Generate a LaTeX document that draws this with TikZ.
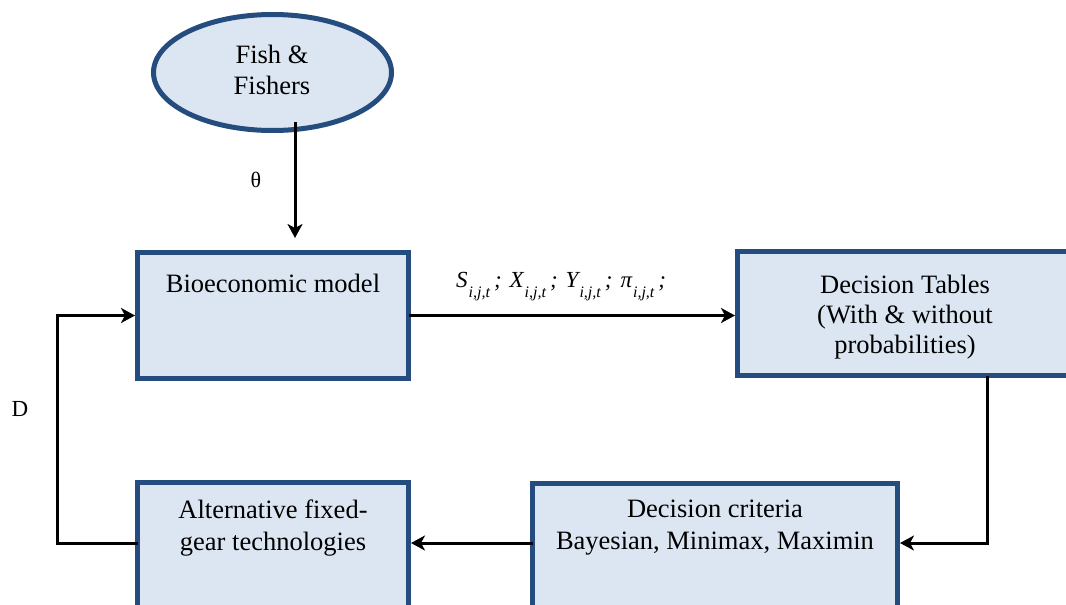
\documentclass[tikz,border=0pt]{standalone}
\usepackage{fontspec}
\setmainfont{Liberation Serif}
\usetikzlibrary{arrows.meta,shapes.geometric}
\definecolor{boxline}{HTML}{244C7E}
\definecolor{boxfill}{HTML}{DCE6F2}
% lowered italic subscript i,j,t followed by a separating semicolon
\newcommand{\ijsub}{\hspace{1pt}\raisebox{-10.5pt}{\fontsize{16}{16}\selectfont\itshape i,j,t}\hspace{4pt};\hspace{8pt}}
\begin{document}
\begin{tikzpicture}[x=1pt,y=-1pt,
  stagebox/.style={draw=boxline,fill=boxfill,line width=5pt,inner sep=0pt,outer sep=0pt},
  boxtext/.style={font=\fontsize{26.5}{30}\selectfont,align=center,inner sep=0pt},
  flow/.style={line width=3pt,-{Stealth[length=14pt,width=15pt,inset=4pt]}},
  lbl/.style={inner sep=0pt}]
\useasboundingbox (0,0) rectangle (1066,605);
\clip (0,0) rectangle (1066,605);

% stages
\node[stagebox,ellipse,minimum width=238pt,minimum height=116pt] (fish) at (272.5,72.5) {};
\node[boxtext,anchor=north] (fisht) at (272,45) {Fish \&\\[1pt]Fishers};

\node[stagebox,minimum width=271pt,minimum height=126pt] (bio) at (273,315.5) {};
\node[boxtext,anchor=base] (biot) at (273,292) {Bioeconomic model};

\node[stagebox,minimum width=340pt,minimum height=124pt] (dt) at (907.5,313.5) {};
\node[boxtext,anchor=north] (dtt) at (905,275) {Decision Tables\\(With \& without\\probabilities)};

\node[stagebox,minimum width=365pt,minimum height=126pt] (dc) at (715,546.5) {};
\node[boxtext,anchor=north] (dct) at (715,500) {Decision criteria\\[2pt]Bayesian, Minimax, Maximin};

\node[stagebox,minimum width=271pt,minimum height=126pt] (alt) at (273,545.5) {};
\node[boxtext,anchor=north] (altt) at (273,500) {Alternative fixed-\\[2pt]gear technologies};

% helper coordinates for the connector routes
\coordinate (thetax) at (295,122);
\coordinate (drop) at (987,0);
\coordinate (lowrow) at (0,543);
\coordinate (loopx) at (57,0);

% connectors
\draw[flow,shorten >=14.5pt] (thetax) -- (thetax |- bio.north);
\node[lbl,font=\fontsize{22}{22}\selectfont] (theta) at (256,180) {θ};

\draw[flow,shorten >=2.5pt] (bio.east) -- (bio.east -| dt.west);
\node[lbl,anchor=base west,font=\fontsize{23}{23}\selectfont\itshape] (flux) at (456,287)
  {S\ijsub X\ijsub Y\ijsub π\ijsub};

\draw[flow,shorten >=2.5pt] (drop |- dt.south) |- (dc.east |- lowrow);
\draw[flow,shorten >=2.5pt] (dc.west |- lowrow) -- (alt.east |- lowrow);
\draw[flow,shorten >=2.5pt] (alt.west |- lowrow) -| (loopx |- bio.west) -- (bio.west);
\node[lbl,font=\fontsize{23}{23}\selectfont] (dlab) at (20,409) {D};
\end{tikzpicture}
\end{document}
